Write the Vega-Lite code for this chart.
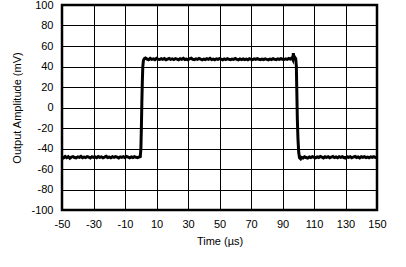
{
  "$schema": "https://vega.github.io/schema/vega-lite/v6.json",
  "width": 315,
  "height": 205,
  "autosize": {"type": "none"},
  "padding": {"left": 62, "top": 5, "right": 29, "bottom": 57},
  "background": "white",
  "config": {
    "view": {"stroke": "black", "strokeWidth": 2.5},
    "font": "Liberation Sans",
    "axis": {
      "domain": false,
      "ticks": false,
      "grid": true,
      "gridColor": "black",
      "gridOpacity": 1,
      "gridWidth": 1,
      "labelFont": "Liberation Sans",
      "labelFontSize": 11,
      "labelColor": "black",
      "titleFont": "Liberation Sans",
      "titleFontSize": 11,
      "titleFontWeight": "normal",
      "titleColor": "black"
    }
  },
  "data": {
    "values": [
      {"t": -50, "v": -48.2}, {"t": -49, "v": -49.1}, {"t": -48, "v": -47.8}, {"t": -47, "v": -48.9}, {"t": -46, "v": -48.0},
      {"t": -45, "v": -49.5}, {"t": -44, "v": -48.3}, {"t": -43, "v": -47.9}, {"t": -42, "v": -48.8}, {"t": -41, "v": -49.2},
      {"t": -40, "v": -48.1}, {"t": -39, "v": -48.6}, {"t": -38, "v": -47.7}, {"t": -37, "v": -49.0}, {"t": -36, "v": -48.4},
      {"t": -35, "v": -48.9}, {"t": -34, "v": -47.9}, {"t": -33, "v": -48.5}, {"t": -32, "v": -49.3}, {"t": -31, "v": -48.0},
      {"t": -30, "v": -48.7}, {"t": -29, "v": -48.2}, {"t": -28, "v": -49.0}, {"t": -27, "v": -47.8}, {"t": -26, "v": -48.6},
      {"t": -25, "v": -48.1}, {"t": -24, "v": -49.1}, {"t": -23, "v": -48.4}, {"t": -22, "v": -47.6}, {"t": -21, "v": -48.8},
      {"t": -20, "v": -48.3}, {"t": -19, "v": -49.0}, {"t": -18, "v": -48.0}, {"t": -17, "v": -48.7}, {"t": -16, "v": -47.9},
      {"t": -15, "v": -48.5}, {"t": -14, "v": -49.2}, {"t": -13, "v": -48.1}, {"t": -12, "v": -48.6}, {"t": -11, "v": -48.0},
      {"t": -10, "v": -48.9}, {"t": -9, "v": -47.7}, {"t": -8, "v": -48.4}, {"t": -7, "v": -49.1}, {"t": -6, "v": -48.2},
      {"t": -5, "v": -48.8}, {"t": -4, "v": -48.0}, {"t": -3, "v": -48.6}, {"t": -2, "v": -49.0}, {"t": -1, "v": -48.3},
      {"t": -0.3, "v": -48.0}, {"t": 0.1, "v": -40}, {"t": 0.4, "v": -20}, {"t": 0.7, "v": 5}, {"t": 1.0, "v": 25},
      {"t": 1.3, "v": 40}, {"t": 1.7, "v": 46}, {"t": 2.3, "v": 47.6}, {"t": 3, "v": 48.2},
      {"t": 4, "v": 47.2}, {"t": 5, "v": 46.6}, {"t": 6, "v": 47.9}, {"t": 7, "v": 47.0}, {"t": 8, "v": 47.5},
      {"t": 9, "v": 46.7}, {"t": 10, "v": 48.0}, {"t": 11, "v": 47.1}, {"t": 12, "v": 46.8}, {"t": 13, "v": 47.6},
      {"t": 14, "v": 47.0}, {"t": 15, "v": 47.8}, {"t": 16, "v": 46.6}, {"t": 17, "v": 47.3}, {"t": 18, "v": 47.9},
      {"t": 19, "v": 46.9}, {"t": 20, "v": 47.4}, {"t": 21, "v": 46.7}, {"t": 22, "v": 47.7}, {"t": 23, "v": 47.1},
      {"t": 24, "v": 46.5}, {"t": 25, "v": 47.6}, {"t": 26, "v": 47.0}, {"t": 27, "v": 47.9}, {"t": 28, "v": 46.8},
      {"t": 29, "v": 47.3}, {"t": 30, "v": 46.6}, {"t": 31, "v": 47.5}, {"t": 32, "v": 48.1}, {"t": 33, "v": 47.0},
      {"t": 34, "v": 46.7}, {"t": 35, "v": 47.4}, {"t": 36, "v": 46.9}, {"t": 37, "v": 47.8}, {"t": 38, "v": 47.1},
      {"t": 39, "v": 46.5}, {"t": 40, "v": 47.3}, {"t": 41, "v": 46.8}, {"t": 42, "v": 47.6}, {"t": 43, "v": 47.0},
      {"t": 44, "v": 47.9}, {"t": 45, "v": 46.7}, {"t": 46, "v": 47.2}, {"t": 47, "v": 46.6}, {"t": 48, "v": 47.5},
      {"t": 49, "v": 46.9}, {"t": 50, "v": 47.7}, {"t": 51, "v": 47.1}, {"t": 52, "v": 46.5}, {"t": 53, "v": 47.4},
      {"t": 54, "v": 46.8}, {"t": 55, "v": 47.6}, {"t": 56, "v": 47.0}, {"t": 57, "v": 46.6}, {"t": 58, "v": 47.3},
      {"t": 59, "v": 46.9}, {"t": 60, "v": 47.8}, {"t": 61, "v": 47.0}, {"t": 62, "v": 46.5}, {"t": 63, "v": 47.4},
      {"t": 64, "v": 46.8}, {"t": 65, "v": 47.5}, {"t": 66, "v": 46.7}, {"t": 67, "v": 47.2}, {"t": 68, "v": 46.6},
      {"t": 69, "v": 47.6}, {"t": 70, "v": 47.0}, {"t": 71, "v": 46.7}, {"t": 72, "v": 47.4}, {"t": 73, "v": 46.9},
      {"t": 74, "v": 47.7}, {"t": 75, "v": 47.1}, {"t": 76, "v": 46.6}, {"t": 77, "v": 47.3}, {"t": 78, "v": 46.8},
      {"t": 79, "v": 47.5}, {"t": 80, "v": 47.0}, {"t": 81, "v": 46.5}, {"t": 82, "v": 47.2}, {"t": 83, "v": 46.8},
      {"t": 84, "v": 47.6}, {"t": 85, "v": 47.0}, {"t": 86, "v": 46.7}, {"t": 87, "v": 47.4}, {"t": 88, "v": 46.9},
      {"t": 89, "v": 47.6}, {"t": 90, "v": 47.1}, {"t": 91, "v": 46.8}, {"t": 92, "v": 47.5}, {"t": 93, "v": 47.0},
      {"t": 94, "v": 47.8}, {"t": 95, "v": 47.2}, {"t": 96, "v": 48.6}, {"t": 96.5, "v": 47.0}, {"t": 96.9, "v": 53.0},
      {"t": 97.3, "v": 46.5}, {"t": 97.8, "v": 49.0}, {"t": 98.4, "v": 47.5}, {"t": 98.8, "v": 40},
      {"t": 99.1, "v": 15}, {"t": 99.4, "v": -10}, {"t": 99.8, "v": -30}, {"t": 100.3, "v": -44},
      {"t": 100.8, "v": -49.0}, {"t": 101.5, "v": -50.0}, {"t": 102, "v": -48.6},
      {"t": 103, "v": -49.2}, {"t": 104, "v": -48.0}, {"t": 105, "v": -48.8}, {"t": 106, "v": -49.4}, {"t": 107, "v": -48.3},
      {"t": 108, "v": -48.9}, {"t": 109, "v": -47.9}, {"t": 110, "v": -48.6}, {"t": 111, "v": -49.1}, {"t": 112, "v": -48.2},
      {"t": 113, "v": -48.8}, {"t": 114, "v": -47.8}, {"t": 115, "v": -48.5}, {"t": 116, "v": -49.2}, {"t": 117, "v": -48.1},
      {"t": 118, "v": -48.7}, {"t": 119, "v": -48.0}, {"t": 120, "v": -49.0}, {"t": 121, "v": -48.4}, {"t": 122, "v": -47.8},
      {"t": 123, "v": -48.9}, {"t": 124, "v": -48.2}, {"t": 125, "v": -49.1}, {"t": 126, "v": -48.0}, {"t": 127, "v": -48.6},
      {"t": 128, "v": -47.9}, {"t": 129, "v": -48.8}, {"t": 130, "v": -49.3}, {"t": 131, "v": -48.1}, {"t": 132, "v": -48.7},
      {"t": 133, "v": -48.0}, {"t": 134, "v": -49.0}, {"t": 135, "v": -48.3}, {"t": 136, "v": -47.7}, {"t": 137, "v": -48.8},
      {"t": 138, "v": -48.2}, {"t": 139, "v": -49.2}, {"t": 140, "v": -48.0}, {"t": 141, "v": -48.6}, {"t": 142, "v": -47.9},
      {"t": 143, "v": -48.9}, {"t": 144, "v": -48.3}, {"t": 145, "v": -49.0}, {"t": 146, "v": -48.1}, {"t": 147, "v": -48.7},
      {"t": 148, "v": -48.0}, {"t": 149, "v": -48.8}, {"t": 150, "v": -48.4}
    ]
  },
  "mark": {"type": "line", "color": "black", "strokeWidth": 3, "clip": true},
  "encoding": {
    "x": {
      "field": "t",
      "type": "quantitative",
      "scale": {"domain": [-50, 150], "nice": false, "zero": false},
      "axis": {
        "values": [-50, -30, -10, 10, 30, 50, 70, 90, 110, 130, 150],
        "labelExpr": "toString(datum.value)",
        "title": "Time (µs)",
        "labelPadding": 8,
        "titlePadding": 6,
        "labelFlush": false
      }
    },
    "y": {
      "field": "v",
      "type": "quantitative",
      "scale": {"domain": [-100, 100], "nice": false, "zero": false},
      "axis": {
        "values": [-100, -80, -60, -40, -20, 0, 20, 40, 60, 80, 100],
        "labelExpr": "toString(datum.value)",
        "title": "Output Amplitude (mV)",
        "labelPadding": 9,
        "titlePadding": 8,
        "labelFlush": false
      }
    }
  }
}
